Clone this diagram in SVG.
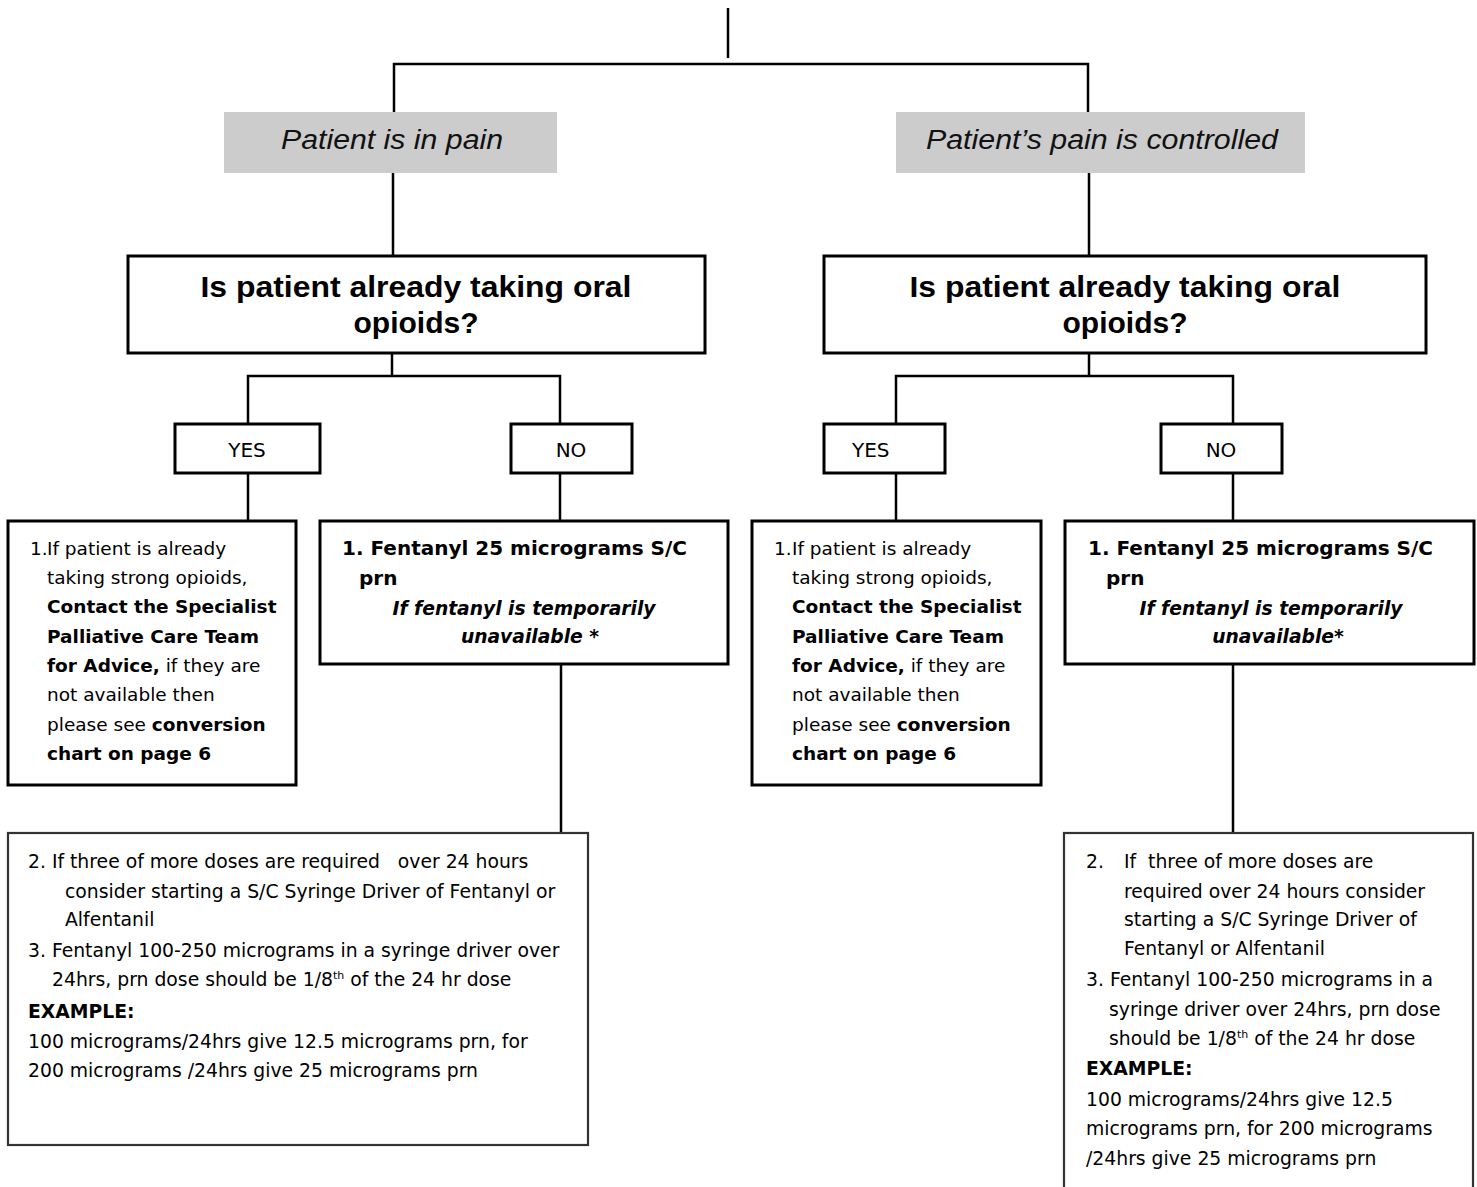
<svg xmlns="http://www.w3.org/2000/svg" width="1477" height="1187" viewBox="0 0 1477 1187">
<style>
.bg{fill:#ffffff}
.con{stroke:#000;stroke-width:2.5;fill:none}
.box{fill:#fff;stroke:#000;stroke-width:3}
.box2{fill:#fff;stroke:#333;stroke-width:2.2}
.gray{fill:#cccccc;stroke:none}
.hdr{font-family:"Liberation Sans",Arial,sans-serif;font-style:italic;font-size:27px;fill:#111}
.dec{font-family:"Liberation Sans",Arial,sans-serif;font-weight:bold;font-size:30px;fill:#000}
.yn{font-family:"DejaVu Sans",Verdana,sans-serif;font-size:20px;fill:#000}
.b{font-family:"DejaVu Sans",Verdana,sans-serif;font-size:18.5px;fill:#000}
.bb{font-weight:bold}
.nb{font-family:"DejaVu Sans",Verdana,sans-serif;font-size:20px;font-weight:bold;fill:#000}
.ni{font-family:"DejaVu Sans",Verdana,sans-serif;font-size:18.7px;font-weight:bold;font-style:italic;fill:#000}
.bt{font-family:"DejaVu Sans",Verdana,sans-serif;font-size:18.8px;fill:#000}
</style>
<rect class="bg" x="0" y="0" width="1477" height="1187"/>
<g id="connectors">
<line class="con" x1="728" y1="8" x2="728" y2="58"/>
<polyline class="con" points="394,112 394,64 1088,64 1088,112"/>
<line class="con" x1="393" y1="173" x2="393" y2="256"/>
<line class="con" x1="1089" y1="173" x2="1089" y2="256"/>
<line class="con" x1="392" y1="353" x2="392" y2="376"/>
<polyline class="con" points="248,424 248,376 560,376 560,424"/>
<line class="con" x1="1089" y1="353" x2="1089" y2="376"/>
<polyline class="con" points="896,424 896,376 1233,376 1233,424"/>
<line class="con" x1="248" y1="473" x2="248" y2="521"/>
<line class="con" x1="560" y1="473" x2="560" y2="521"/>
<line class="con" x1="896" y1="473" x2="896" y2="521"/>
<line class="con" x1="1233" y1="473" x2="1233" y2="521"/>
<line class="con" x1="561" y1="664" x2="561" y2="833"/>
<line class="con" x1="1233" y1="664" x2="1233" y2="833"/>
</g>
<g id="pain">
<rect class="gray" x="224" y="112" width="333" height="61"/>
<text class="hdr" x="392" y="149" text-anchor="middle" textLength="222" lengthAdjust="spacingAndGlyphs">Patient is in pain</text>
</g>
<g id="controlled">
<rect class="gray" x="896" y="112" width="409" height="61"/>
<text class="hdr" x="1102" y="149" text-anchor="middle" textLength="352" lengthAdjust="spacingAndGlyphs">Patient’s pain is controlled</text>
</g>
<g id="decision-left">
<rect class="box" x="128" y="256" width="577" height="97"/>
<text class="dec" x="416" y="297" text-anchor="middle" textLength="431" lengthAdjust="spacingAndGlyphs">Is patient already taking oral</text>
<text class="dec" x="416" y="333" text-anchor="middle">opioids?</text>
</g>
<g id="decision-right">
<rect class="box" x="824" y="256" width="602" height="97"/>
<text class="dec" x="1125" y="297" text-anchor="middle" textLength="431" lengthAdjust="spacingAndGlyphs">Is patient already taking oral</text>
<text class="dec" x="1125" y="333" text-anchor="middle">opioids?</text>
</g>
<g id="yes-left">
<rect class="box" x="175" y="424" width="145" height="49"/>
<text class="yn" x="247" y="457" text-anchor="middle">YES</text>
</g>
<g id="no-left">
<rect class="box" x="511" y="424" width="121" height="49"/>
<text class="yn" x="571" y="457" text-anchor="middle">NO</text>
</g>
<g id="yes-right">
<rect class="box" x="824" y="424" width="121" height="49"/>
<text class="yn" x="852" y="457">YES</text>
</g>
<g id="no-right">
<rect class="box" x="1161" y="424" width="121" height="49"/>
<text class="yn" x="1221" y="457" text-anchor="middle">NO</text>
</g>
<g id="yes-left-action">
<rect class="box" x="8" y="521" width="288" height="264"/>
<text class="b" x="30" y="555">1.</text>
<text class="b" x="47" y="555">If patient is already</text>
<text class="b" x="47" y="584">taking strong opioids,</text>
<text class="b bb" x="47" y="613">Contact the Specialist</text>
<text class="b bb" x="47" y="643">Palliative Care Team</text>
<text class="b" x="47" y="672"><tspan class="bb">for Advice,</tspan> if they are</text>
<text class="b" x="47" y="701">not available then</text>
<text class="b" x="47" y="731">please see <tspan class="bb">conversion</tspan></text>
<text class="b bb" x="47" y="760">chart on page 6</text>
</g>
<g id="no-left-action">
<rect class="box" x="320" y="521" width="408" height="143"/>
<text class="nb" x="342" y="555">1. Fentanyl 25 micrograms S/C</text>
<text class="nb" x="359" y="585">prn</text>
<text class="ni" x="524" y="615" text-anchor="middle">If fentanyl is temporarily</text>
<text class="ni" x="530" y="643" text-anchor="middle">unavailable *</text>
</g>
<g id="yes-right-action">
<rect class="box" x="752" y="521" width="289" height="264"/>
<text class="b" x="774" y="555">1.</text>
<text class="b" x="792" y="555">If patient is already</text>
<text class="b" x="792" y="584">taking strong opioids,</text>
<text class="b bb" x="792" y="613">Contact the Specialist</text>
<text class="b bb" x="792" y="643">Palliative Care Team</text>
<text class="b" x="792" y="672"><tspan class="bb">for Advice,</tspan> if they are</text>
<text class="b" x="792" y="701">not available then</text>
<text class="b" x="792" y="731">please see <tspan class="bb">conversion</tspan></text>
<text class="b bb" x="792" y="760">chart on page 6</text>
</g>
<g id="no-right-action">
<rect class="box" x="1065" y="521" width="409" height="143"/>
<text class="nb" x="1088" y="555">1. Fentanyl 25 micrograms S/C</text>
<text class="nb" x="1106" y="585">prn</text>
<text class="ni" x="1271" y="615" text-anchor="middle">If fentanyl is temporarily</text>
<text class="ni" x="1278" y="643" text-anchor="middle">unavailable*</text>
</g>
<g id="syringe-left">
<rect class="box2" x="8" y="833" width="580" height="312"/>
<text class="bt" x="28" y="868" xml:space="preserve">2. If three of more doses are required   over 24 hours</text>
<text class="bt" x="65" y="898">consider starting a S/C Syringe Driver of Fentanyl or</text>
<text class="bt" x="65" y="926">Alfentanil</text>
<text class="bt" x="28" y="957">3. Fentanyl 100-250 micrograms in a syringe driver over</text>
<text class="bt" x="52" y="986">24hrs, prn dose should be 1/8<tspan dy="-7" font-size="11">th</tspan><tspan dy="7"> of the 24 hr dose</tspan></text>
<text class="bt bb" x="28" y="1018">EXAMPLE:</text>
<text class="bt" x="28" y="1048">100 micrograms/24hrs give 12.5 micrograms prn, for</text>
<text class="bt" x="28" y="1077">200 micrograms /24hrs give 25 micrograms prn</text>
</g>
<g id="syringe-right">
<rect class="box2" x="1064" y="833" width="409" height="370"/>
<text class="bt" x="1086" y="868">2.</text>
<text class="bt" x="1124" y="868" xml:space="preserve">If  three of more doses are</text>
<text class="bt" x="1124" y="898">required over 24 hours consider</text>
<text class="bt" x="1124" y="926">starting a S/C Syringe Driver of</text>
<text class="bt" x="1124" y="955">Fentanyl or Alfentanil</text>
<text class="bt" x="1086" y="986">3. Fentanyl 100-250 micrograms in a</text>
<text class="bt" x="1109" y="1016">syringe driver over 24hrs, prn dose</text>
<text class="bt" x="1109" y="1045">should be 1/8<tspan dy="-7" font-size="11">th</tspan><tspan dy="7"> of the 24 hr dose</tspan></text>
<text class="bt bb" x="1086" y="1075">EXAMPLE:</text>
<text class="bt" x="1086" y="1106">100 micrograms/24hrs give 12.5</text>
<text class="bt" x="1086" y="1135">micrograms prn, for 200 micrograms</text>
<text class="bt" x="1086" y="1165">/24hrs give 25 micrograms prn</text>
</g>
</svg>
